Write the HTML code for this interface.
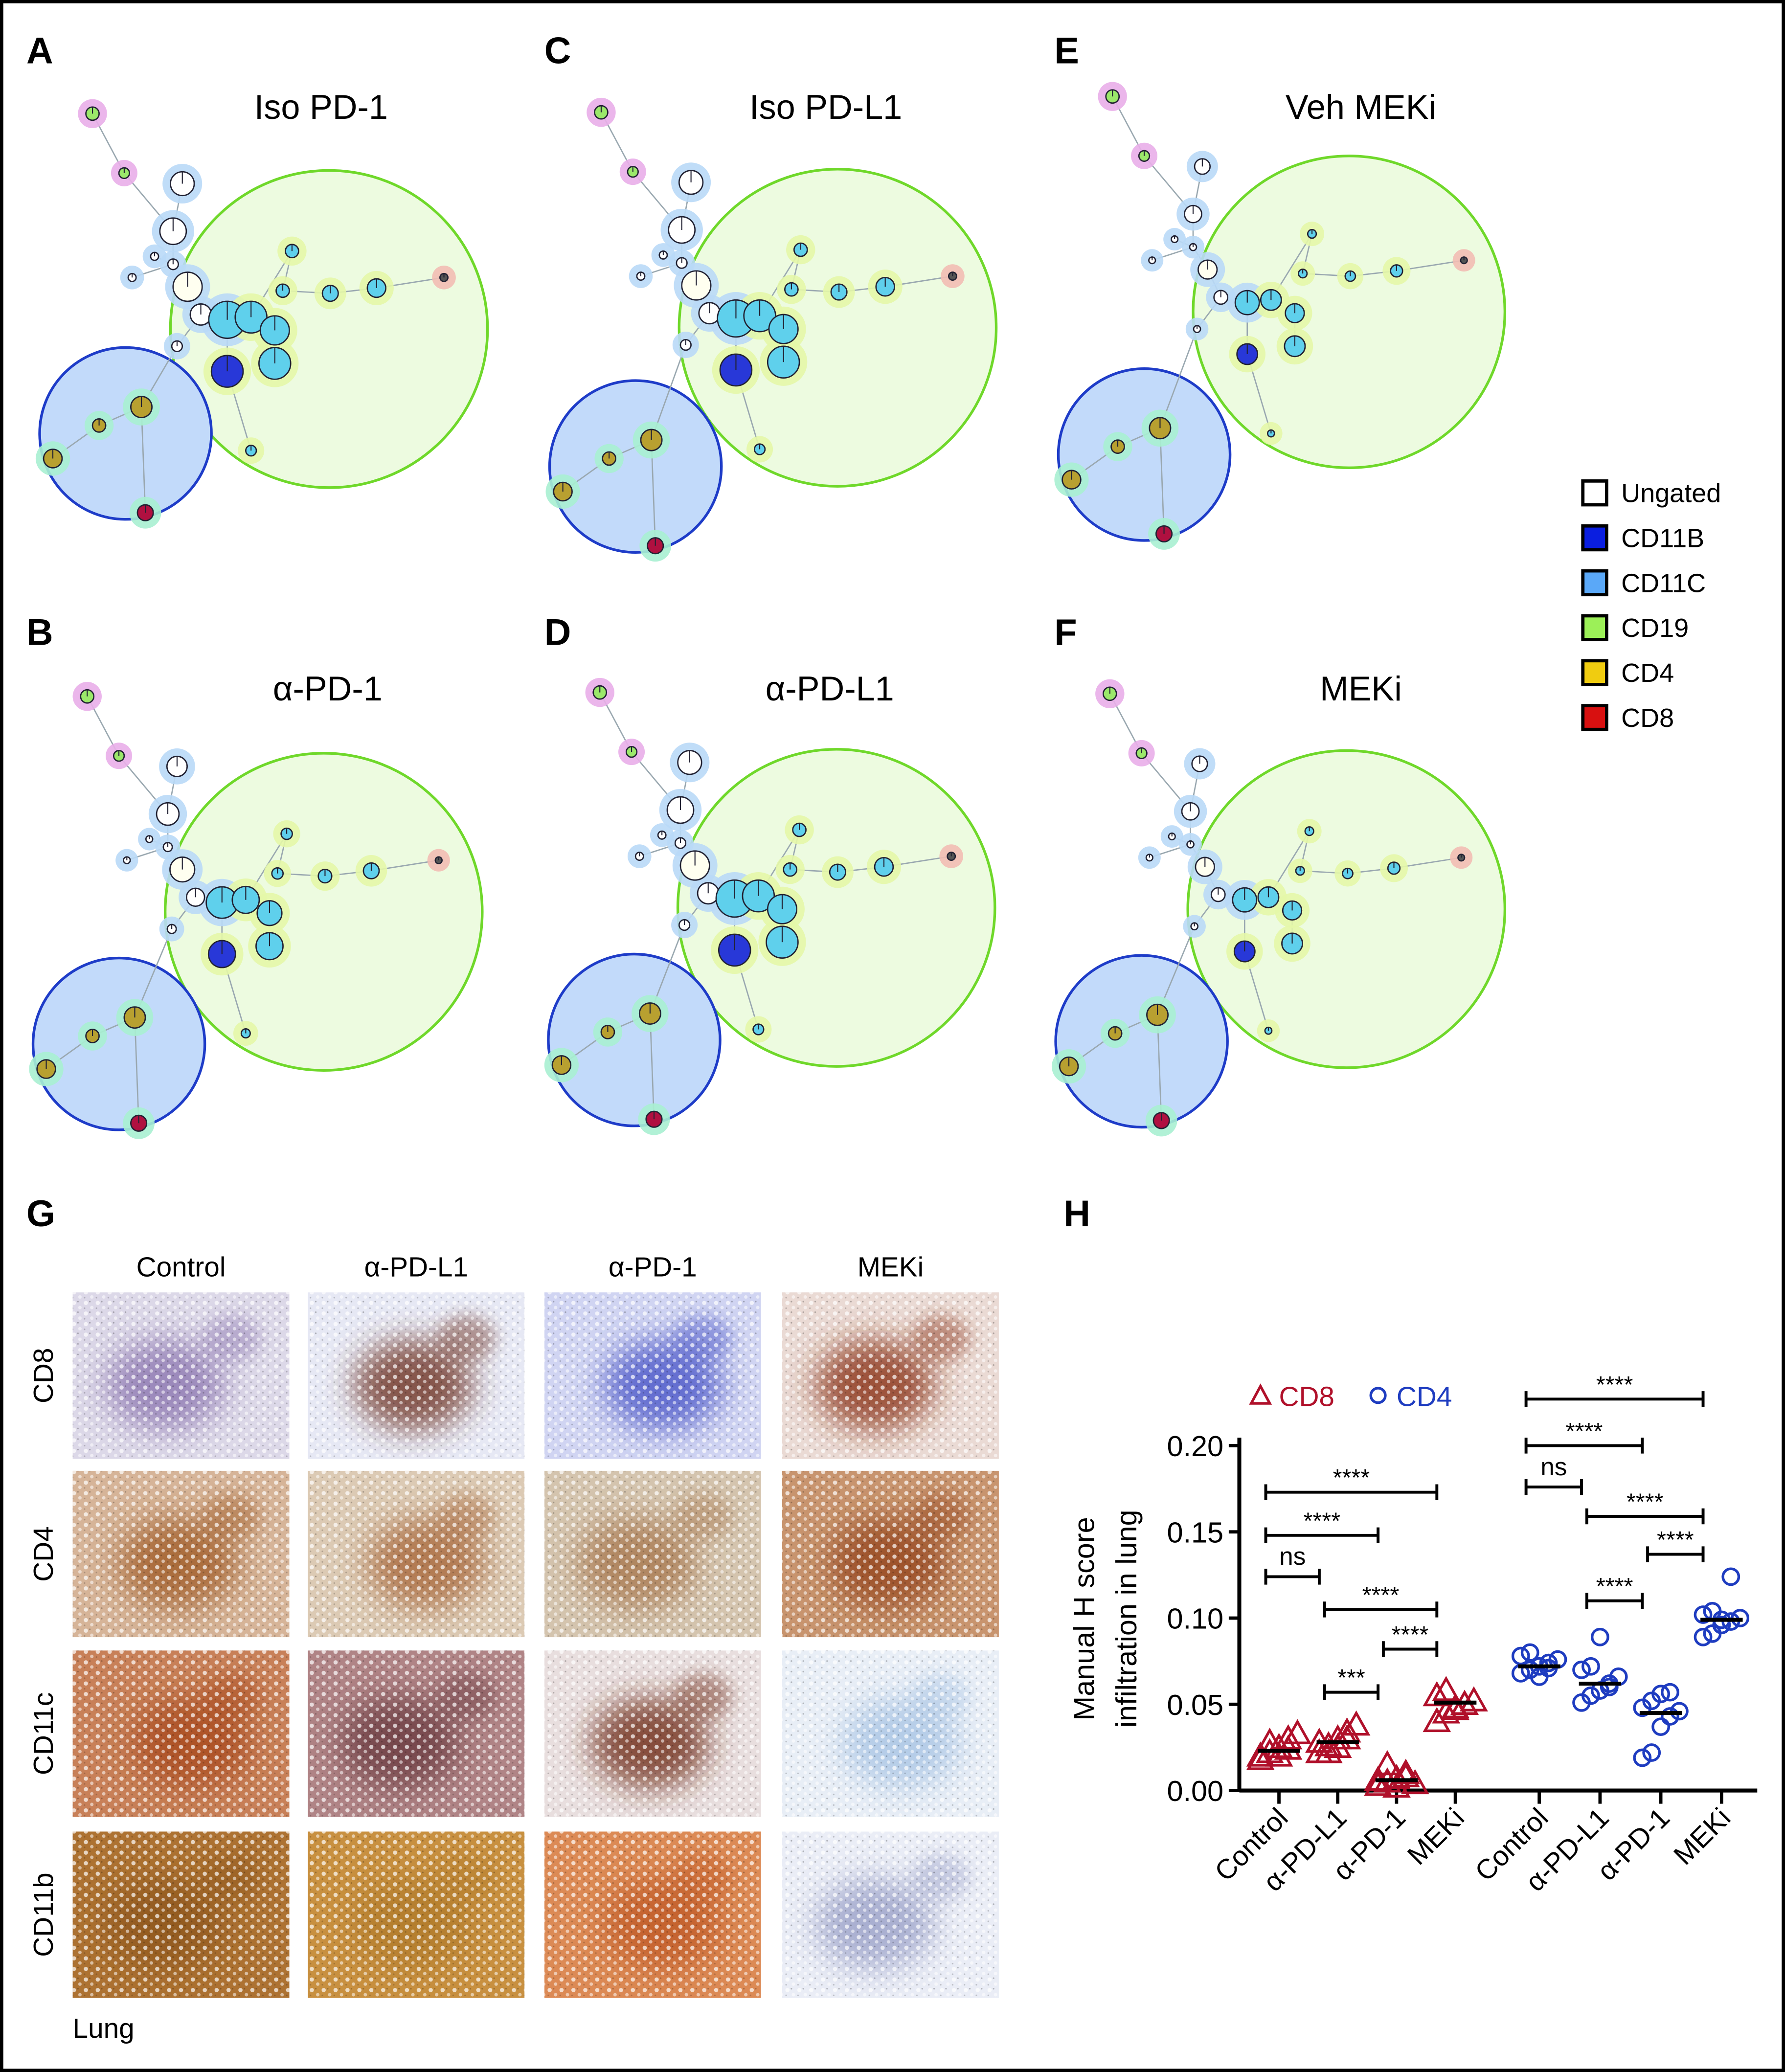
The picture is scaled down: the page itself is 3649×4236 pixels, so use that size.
<!DOCTYPE html>
<html><head><meta charset="utf-8"><style>
html,body{margin:0;padding:0;background:#fff}
svg{display:block}
text{font-family:"Liberation Sans",sans-serif}
</style></head><body>
<svg id="root" width="3649" height="4236" viewBox="0 0 1351 1568" preserveAspectRatio="none" xmlns="http://www.w3.org/2000/svg">
<defs>
<filter id="blur" x="-50%" y="-50%" width="200%" height="200%"><feGaussianBlur stdDeviation="6"/></filter>
<filter id="blur2" x="-50%" y="-50%" width="200%" height="200%"><feGaussianBlur stdDeviation="12"/></filter>
<pattern id="speck" width="9" height="8" patternUnits="userSpaceOnUse"><circle cx="2" cy="2" r="1.6" fill="#fff" opacity="0.7"/><circle cx="6.5" cy="5.5" r="1.3" fill="#fff" opacity="0.55"/><circle cx="5" cy="1" r="0.6" fill="#000" opacity="0.25"/><circle cx="1" cy="6" r="0.6" fill="#000" opacity="0.2"/></pattern>
</defs>
<rect x="1" y="1" width="1349" height="1566" fill="#fff" stroke="#000" stroke-width="3"/>
<g id="nets"></g>
<g id="legend"></g>
<g id="ihc"></g>
<g id="chart"></g>
</svg>
<script>
const NS='http://www.w3.org/2000/svg';
function mk(tag,attrs,parent,txt){const e=document.createElementNS(NS,tag);for(const k in attrs)e.setAttribute(k,attrs[k]);if(txt!==undefined)e.textContent=txt;parent.appendChild(e);return e;}

// ---------- Panels A-F ----------
const panelLetters=['A','C','E','B','D','F'];
const panelTitles=['Iso PD-1','Iso PD-L1','Veh MEKi','α-PD-1','α-PD-L1','MEKi'];
const panelGreen=[[249,249,120],[634,248,120],[1021,236,118],[245,690,120],[633,687,120],[1019,688,120]];
const panelBlue=[[95,328,65],[481,353,65],[866,344,65],[90,790,65],[480,787,65],[864,788,65]];
const letterPos=[[20,48],[412,48],[798,48],[20,488],[412,488],[798,488]];
const titlePos=[[243,90],[625,90],[1030,90],[248,530],[628,530],[1030,530]];
const H={pk:'#e9aee9',bl:'#b9d9f7',yg:'#e4f7a8',tl:'#a9efd2',sa:'#f2bcb4'};
const nodes=[
[70,86,5,'#9be86a',H.pk],[94,131,4,'#9be86a',H.pk],[138,139,9,'#fff',H.bl],[131,175,10,'#fff',H.bl],
[117,194,3,'#fff',H.bl],[131,200,4,'#fff',H.bl],[100,210,3,'#fff',H.bl],[142,217,11,'#fffff0',H.bl],
[152,238,8,'#fff',H.bl],[172,242,14,'#5fd0ec',H.bl],[190,240,12,'#5fd0ec',H.yg],[208,250,11,'#5fd0ec',H.yg],
[208,275,12,'#5fd0ec',H.yg],[172,281,12,'#2838d8',H.yg],[134,262,4,'#fff',H.bl],[221,190,5,'#5fd0ec',H.yg],
[214,220,5,'#5fd0ec',H.yg],[250,222,6,'#5fd0ec',H.yg],[285,218,7,'#5fd0ec',H.yg],[336,210,3,'#555',H.sa],
[190,341,4,'#5fd0ec',H.yg],[107,308,8,'#b8a030',H.tl],[75,322,5,'#b8a030',H.tl],[40,347,7,'#b8a030',H.tl],[110,388,6,'#b01040',H.tl]];
const edges=[[0,1],[1,3],[2,3],[3,5],[4,5],[5,6],[5,7],[7,8],[8,9],[9,10],[10,11],[11,12],[10,15],[15,16],[16,17],[17,18],[18,19],[9,13],[13,20],[8,14],[14,21],[21,22],[22,23],[21,24]];
const nets=document.getElementById('nets');
for(let p=0;p<6;p++){
  const g=mk('g',{},nets);
  
  
  const dx=panelGreen[p][0]-249, dy=panelGreen[p][1]-249;
  const sc=(p===2||p===5)?0.65:(p===3?0.85:1);
  const gc=mk('circle',{cx:panelGreen[p][0],cy:panelGreen[p][1],r:panelGreen[p][2],fill:'#edfbe0',stroke:'#6fd82a','stroke-width':2},g);
  
  const bdx=panelBlue[p][0]-95, bdy=panelBlue[p][1]-328;
  const bc=mk('circle',{cx:panelBlue[p][0],cy:panelBlue[p][1],r:panelBlue[p][2],fill:'#c2dafa',stroke:'#1e3cc8','stroke-width':2},g);
  
  const pos=nodes.map((n,i)=> i>=21?[n[0]+bdx,n[1]+bdy]:[n[0]+dx,n[1]+dy]);
  edges.forEach(e=>mk('line',{x1:pos[e[0]][0],y1:pos[e[0]][1],x2:pos[e[1]][0],y2:pos[e[1]][1],stroke:'#9aa8b0','stroke-width':1},g));
  nodes.forEach((n,i)=>{
    const r=Math.max(2.5,n[2]*(i>=2&&i<21?sc:1));
    mk('circle',{cx:pos[i][0],cy:pos[i][1],r:r+6,fill:n[4],opacity:0.9},g);
  });
  nodes.forEach((n,i)=>{
    const r=Math.max(2.5,n[2]*(i>=2&&i<21?sc:1));
    const c=mk('circle',{cx:pos[i][0],cy:pos[i][1],r:r,fill:n[3],stroke:'#223','stroke-width':1},g);
    
    mk('line',{x1:pos[i][0],y1:pos[i][1],x2:pos[i][0],y2:pos[i][1]-r,stroke:'#223','stroke-width':0.8},g);
  });
  const L=mk('text',{x:letterPos[p][0],y:letterPos[p][1],'font-size':28,'font-weight':'bold'},g,panelLetters[p]);
  
  const T=mk('text',{x:titlePos[p][0],y:titlePos[p][1],'font-size':26,'text-anchor':'middle'},g,panelTitles[p]);
  
}
const legNames=['Ungated','CD11B','CD11C','CD19','CD4','CD8'];
const legColors=['#fff','#0a1ee0','#5aa8f8','#9cf058','#f0cc10','#d81010'];
const leg=document.getElementById('legend');
legNames.forEach((n,i)=>{
  const y=364+i*34;
  const r=mk('rect',{x:1198,y:y,width:18,height:18,fill:legColors[i],stroke:'#000','stroke-width':2.5},leg);
  
  const t=mk('text',{x:1227,y:y+16,'font-size':20},leg,n);
  
});

// ---------- Panel G ----------
const ihc=document.getElementById('ihc');
mk('text',{x:20,y:928,'font-size':28,'font-weight':'bold'},ihc,'G');
const colNames=['Control','α-PD-L1','α-PD-1','MEKi'];
const colX=[55,233,412,592];
const rowNames=['CD8','CD4','CD11c','CD11b'];
const rowY=[978,1113,1249,1386];
const base=[['#dcd8e8','#e6e8f4','#d0d4f2','#eadad4'],['#d6b498','#dccab4','#d4c4ae','#c8946e'],['#c88058','#b08486','#e8dede','#e8eef6'],['#ad7232','#c89040','#dc8a55','#eaedf6']];
const blot=[['#8c76b0','#6e3020','#4a55c8','#8a3216'],['#a05c28','#a8683a','#a87850','#94441c'],['#a84a1c','#6a3a40','#6e2c18','#a8c4e4'],['#8e561c','#b07a2c','#c05a28','#9aa0c8']];
colNames.forEach((c,i)=>{const t=mk('text',{x:colX[i]+82,y:966,'font-size':21,'text-anchor':'middle'},ihc,c);});
rowNames.forEach((r,j)=>{const t=mk('text',{x:0,y:0,'font-size':21,'text-anchor':'middle',transform:`translate(40,${rowY[j]+63}) rotate(-90)`},ihc,r);});
for(let j=0;j<4;j++)for(let i=0;i<4;i++){
  const g=mk('g',{},ihc);
  
  const cid='clip'+j+i;
  const cp=mk('clipPath',{id:cid},g);mk('rect',{x:colX[i],y:rowY[j],width:164,height:126},cp);
  const gg=mk('g',{'clip-path':`url(#${cid})`},g);
  mk('rect',{x:colX[i],y:rowY[j],width:164,height:126,fill:base[j][i]},gg);
  mk('ellipse',{cx:colX[i]+70+((i+j)%3)*10,cy:rowY[j]+70,rx:45,ry:34,fill:blot[j][i],opacity:0.8,filter:'url(#blur2)'},gg);
  mk('ellipse',{cx:colX[i]+120,cy:rowY[j]+35,rx:22,ry:18,fill:blot[j][i],opacity:0.45,filter:'url(#blur)'},gg);
  mk('rect',{x:colX[i],y:rowY[j],width:164,height:126,fill:'url(#speck)'},gg);
}
mk('text',{x:55,y:1542,'font-size':21},ihc,'Lung');

// ---------- Panel H chart ----------
const categories=['Control','α-PD-L1','α-PD-1','MEKi'];
const yTicks=[0,0.05,0.10,0.15,0.20];
const yTickLabels=['0.00','0.05','0.10','0.15','0.20'];
const cd8Values=[[0.020,0.022,0.025,0.030,0.033,0.018,0.028,0.020,0.024],[0.022,0.026,0.030,0.034,0.038,0.028,0.022,0.025,0.030],[0.003,0.005,0.007,0.010,0.004,0.006,0.015,0.002,0.008],[0.040,0.045,0.048,0.050,0.052,0.055,0.058,0.047,0.050]];
const cd8Means=[0.023,0.028,0.006,0.051];
const cd4Values=[[0.068,0.070,0.072,0.074,0.076,0.078,0.080,0.066,0.071],[0.051,0.055,0.058,0.062,0.066,0.070,0.072,0.089,0.060],[0.019,0.022,0.037,0.043,0.046,0.048,0.052,0.056,0.057],[0.089,0.091,0.096,0.098,0.100,0.102,0.104,0.099,0.124]];
const cd4Means=[0.072,0.062,0.045,0.099];
const cd8Brackets=[[0,3,0.173,'****'],[0,2,0.148,'****'],[0,1,0.124,'ns'],[1,3,0.105,'****'],[2,3,0.082,'****'],[1,2,0.057,'***']];
const cd4Brackets=[[0,3,0.227,'****'],[0,2,0.200,'****'],[0,1,0.176,'ns'],[1,3,0.159,'****'],[2,3,0.137,'****'],[1,2,0.110,'****']];

const ch=document.getElementById('chart');
const axX=938, y0=1355, y1=1094;
const yS=v=>y0-(v/0.20)*(y0-y1);
const cd8X=i=>968+i*44.5;
const cd4X=i=>1165+i*46;
mk('text',{x:805,y:928,'font-size':28,'font-weight':'bold'},ch,'H');
const ya=mk('line',{x1:axX,y1:1088,x2:axX,y2:y0,stroke:'#000','stroke-width':3},ch);

const xa=mk('line',{x1:axX,y1:y0,x2:1330,y2:y0,stroke:'#000','stroke-width':3},ch);

yTicks.forEach((v,i)=>{
  mk('line',{x1:axX-8,y1:yS(v),x2:axX,y2:yS(v),stroke:'#000','stroke-width':2.5},ch);
  const t=mk('text',{x:axX-12,y:yS(v)+8,'font-size':22,'text-anchor':'end'},ch,yTickLabels[i]);
  
});
const yt=mk('text',{x:0,y:0,'font-size':22,'text-anchor':'middle',transform:'translate(828,1225) rotate(-90)'},ch,'Manual H score');

mk('text',{x:0,y:0,'font-size':22,'text-anchor':'middle',transform:'translate(860,1225) rotate(-90)'},ch,'infiltration in lung');
function xLabels(fx){
  categories.forEach((c,i)=>{
    mk('line',{x1:fx(i),y1:y0,x2:fx(i),y2:y0+10,stroke:'#000','stroke-width':2.5},ch);
    const t=mk('text',{x:0,y:0,'font-size':21,'text-anchor':'end',transform:`translate(${fx(i)+8},${y0+22}) rotate(-45)`},ch,c);
    
  });
}
xLabels(cd8X);xLabels(cd4X);
function brackets(list,fx){
  list.forEach(b=>{
    const xa1=fx(b[0])-10, xb=fx(b[1])-14, y=yS(b[2]);
    const g=mk('g',{},ch);
    
    mk('path',{d:`M${xa1},${y-6}V${y+6}M${xa1},${y}H${xb}M${xb},${y-6}V${y+6}`,stroke:'#000','stroke-width':2.2,fill:'none'},g);
    mk('text',{x:(xa1+xb)/2,y:b[3]==='ns'?y-9:y-5,'font-size':b[3]==='ns'?19:18,'text-anchor':'middle'},g,b[3]);
  });
}
brackets(cd8Brackets,cd8X);brackets(cd4Brackets,cd4X);
cd8Values.forEach((arr,i)=>{
  arr.forEach((v,k)=>{
    const x=cd8X(i)+((k%5)-2)*7, y=yS(v);
    const t=mk('path',{d:`M${x},${y-9}L${x+9},${y+7}L${x-9},${y+7}Z`,fill:'none',stroke:'#b0102a','stroke-width':2},ch);
    
  });
  mk('line',{x1:cd8X(i)-16,y1:yS(cd8Means[i]),x2:cd8X(i)+16,y2:yS(cd8Means[i]),stroke:'#000','stroke-width':3},ch);
});
cd4Values.forEach((arr,i)=>{
  arr.forEach((v,k)=>{
    const x=cd4X(i)+((k%5)-2)*7, y=yS(v);
    const c=mk('circle',{cx:x,cy:y,r:6,fill:'none',stroke:'#1e3cc0','stroke-width':2},ch);
    
  });
  mk('line',{x1:cd4X(i)-16,y1:yS(cd4Means[i]),x2:cd4X(i)+16,y2:yS(cd4Means[i]),stroke:'#000','stroke-width':3},ch);
});
const lg=mk('g',{},ch);
mk('path',{d:'M954,1049L961,1062L947,1062Z',fill:'none',stroke:'#b0102a','stroke-width':2},lg);
mk('text',{x:968,y:1064,'font-size':21,fill:'#b0102a'},lg,'CD8');
mk('circle',{cx:1043,cy:1056,r:5.5,fill:'none',stroke:'#1e3cc0','stroke-width':2},lg);
mk('text',{x:1057,y:1064,'font-size':21,fill:'#1e3cc0'},lg,'CD4');
</script>
</body></html>
